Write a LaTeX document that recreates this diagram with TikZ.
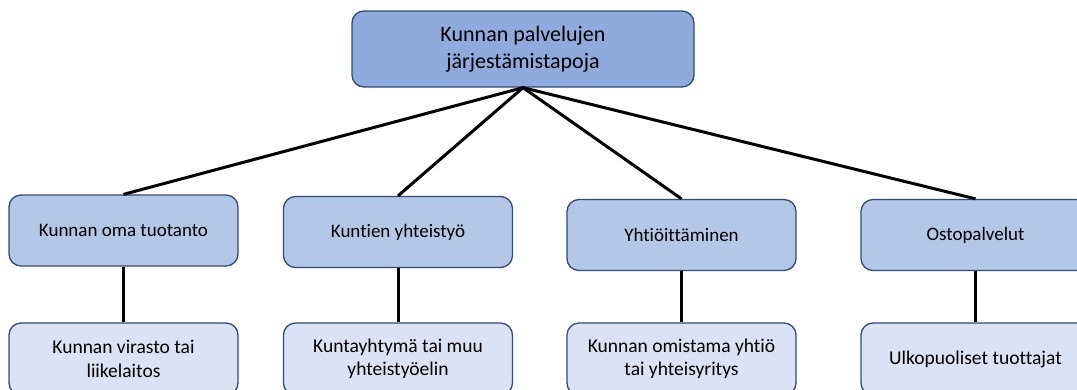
\documentclass[tikz,border=0pt]{standalone}
\usepackage{fontspec}
\setmainfont{Carlito}[Ligatures={NoCommon,NoContextual}]
\definecolor{topfill}{HTML}{8FAADC}
\definecolor{midfill}{HTML}{B4C7E7}
\definecolor{lowfill}{HTML}{DAE3F3}
\definecolor{edge}{HTML}{2F4B7C}
\begin{document}
\begin{tikzpicture}[x=1pt,y=-1pt,
  boxbase/.style={draw=edge,line width=1.3pt,rounded corners=12pt,align=center,inner sep=0pt},
  topbox/.style={boxbase,fill=topfill,minimum width=342pt,minimum height=76pt,font=\fontsize{22}{27}\selectfont},
  midbox/.style={boxbase,fill=midfill,minimum width=229pt,minimum height=71pt,font=\fontsize{19}{23}\selectfont},
  lowbox/.style={boxbase,fill=lowfill,minimum width=229pt,minimum height=72pt,font=\fontsize{19.5}{23.5}\selectfont},
  link/.style={line width=3pt,black}]
\useasboundingbox (0,0) rectangle (1077,389);
\clip (0,0) rectangle (1077,389);
\node[topbox] (top) at (523,49) {Kunnan palvelujen\\järjestämistapoja};
\node[midbox] (m1) at (123.5,230.5) {Kunnan oma tuotanto};
\node[midbox] (m2) at (398,232) {Kuntien yhteistyö};
\node[midbox] (m3) at (681.5,235) {Yhtiöittäminen};
\node[midbox] (m4) at (975.5,235) {Ostopalvelut};
\node[lowbox] (l1) at (123.5,359) {Kunnan virasto tai\\liikelaitos};
\node[lowbox] (l2) at (398,359) {Kuntayhtymä tai muu\\yhteistyöelin};
\node[lowbox] (l3) at (681.5,359) {Kunnan omistama yhtiö\\tai yhteisyritys};
\node[lowbox] (l4) at (975.5,359) {Ulkopuoliset tuottajat};
\foreach \m in {m1,m2,m3,m4} \draw[link] (top.south) -- (\m.north);
\draw[link] (m1) -- (l1);
\draw[link] (m2) -- (l2);
\draw[link] (m3) -- (l3);
\draw[link] (m4) -- (l4);
\end{tikzpicture}
\end{document}
